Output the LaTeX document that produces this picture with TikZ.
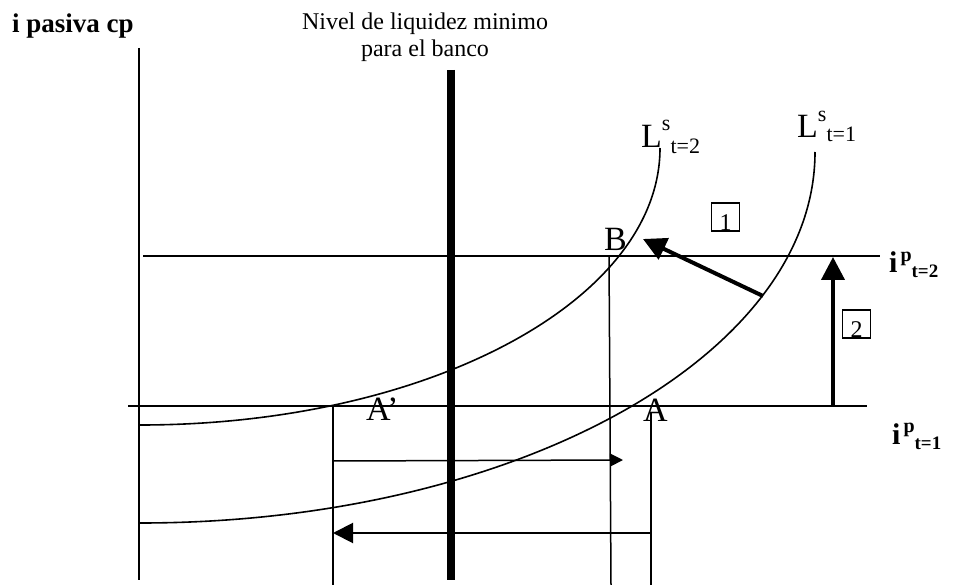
\documentclass[tikz,border=0pt]{standalone}
\usepackage{fontspec}
\setmainfont{Liberation Serif}
\usetikzlibrary{arrows.meta}
\newcommand{\lslabel}[3]{\fontsize{34}{38}\selectfont L\raisebox{#1pt}{\fontsize{22}{24}\selectfont s}\raisebox{-#2pt}{\fontsize{22}{24}\selectfont t=#3}}
\newcommand{\iplabel}[1]{\bfseries\fontsize{30}{34}\selectfont i\hspace{3pt}\raisebox{12pt}{\fontsize{20}{22}\selectfont p}\raisebox{-5pt}{\fontsize{19}{22}\selectfont t=#1}}
\tikzset{
  txt/.style={inner sep=0pt,anchor=base west},
  guide/.style={line width=1.5pt},
  rate/.style={line width=2pt},
  supply/.style={line width=1.6pt},
  shift arrow/.style={line width=4pt,-{Triangle[length=23pt,width=23pt]}},
  numbox/.style={draw,line width=1.4pt,minimum size=28pt,inner sep=0pt},
}
\begin{document}
\begin{tikzpicture}[x=1pt,y=-1pt]
  \useasboundingbox (0,0) rectangle (961,585);
  \draw[line width=2.4pt] (139,48) -- (139,580);
  \draw[line width=8pt] (451,70) -- (451,580);
  \draw[rate] (143,256) -- (880,256);
  \draw[rate] (128,406) -- (867,406);
  \draw[supply] (140,523) arc[start angle=90,end angle=0,x radius=675,y radius=371];
  \draw[supply] (140,425) arc[start angle=90,end angle=0,x radius=520,y radius=277];
  \coordinate (aprime top) at (333,406);
  \coordinate (aprime bot) at (333,585);
  \coordinate (b top) at (609,256);
  \coordinate (b bot) at (611,585);
  \coordinate (a top) at (651,412);
  \coordinate (a bot) at (651,585);
  \draw[rate] (aprime top) -- (aprime bot);
  \draw[guide] (b top) -- (b bot);
  \draw[guide] (a top) -- (a bot);
  \coordinate (on curve) at (763,296);
  \coordinate (near b) at (643,239);
  \draw[shift arrow] (on curve) -- (near b);
  \coordinate (up from) at (833,406);
  \coordinate (up to) at (833,257);
  \draw[shift arrow] (up from) -- (up to);
  \coordinate (right from) at (333,461);
  \coordinate (right to) at (623,460);
  \draw[guide,-{Triangle[length=13pt,width=13pt]}] (right from) -- (right to);
  \coordinate (left from) at (651,533);
  \coordinate (left to) at (333,533);
  \draw[rate,-{Triangle[length=20pt,width=20pt]}] (left from) -- (left to);
  \node[txt,font=\bfseries\fontsize{27}{30}\selectfont] (yaxis) at (12,33) {i pasiva cp};
  \node[inner sep=0pt,anchor=base,font=\fontsize{24}{27}\selectfont] (nivel a) at (425,30) {Nivel de liquidez minimo};
  \node[inner sep=0pt,anchor=base,font=\fontsize{24}{27}\selectfont] (nivel b) at (425,57) {para el banco};
  \node[txt] (ls two) at (641,148) {\lslabel{17}{6}{2}};
  \node[txt] (ls one) at (797,138) {\lslabel{16}{4}{1}};
  \node[txt,font=\fontsize{34}{38}\selectfont] (lab b) at (604,251) {B};
  \node[txt,font=\fontsize{34}{38}\selectfont] (lab a) at (643,421) {A};
  \node[txt,font=\fontsize{34}{38}\selectfont] (lab aprime) at (366,420) {A’};
  \node[txt] (ip two) at (889,273) {\iplabel{2}};
  \node[txt] (ip one) at (892,444) {\iplabel{1}};
  \node[numbox] (box one) at (725.5,217) {};
  \node[inner sep=0pt,anchor=base,font=\fontsize{24}{27}\selectfont] at ([yshift=1pt]box one.south) {1};
  \node[numbox] (box two) at (856.5,324) {};
  \node[inner sep=0pt,anchor=base,font=\fontsize{24}{27}\selectfont] at ([yshift=1pt]box two.south) {2};
\end{tikzpicture}
\end{document}
